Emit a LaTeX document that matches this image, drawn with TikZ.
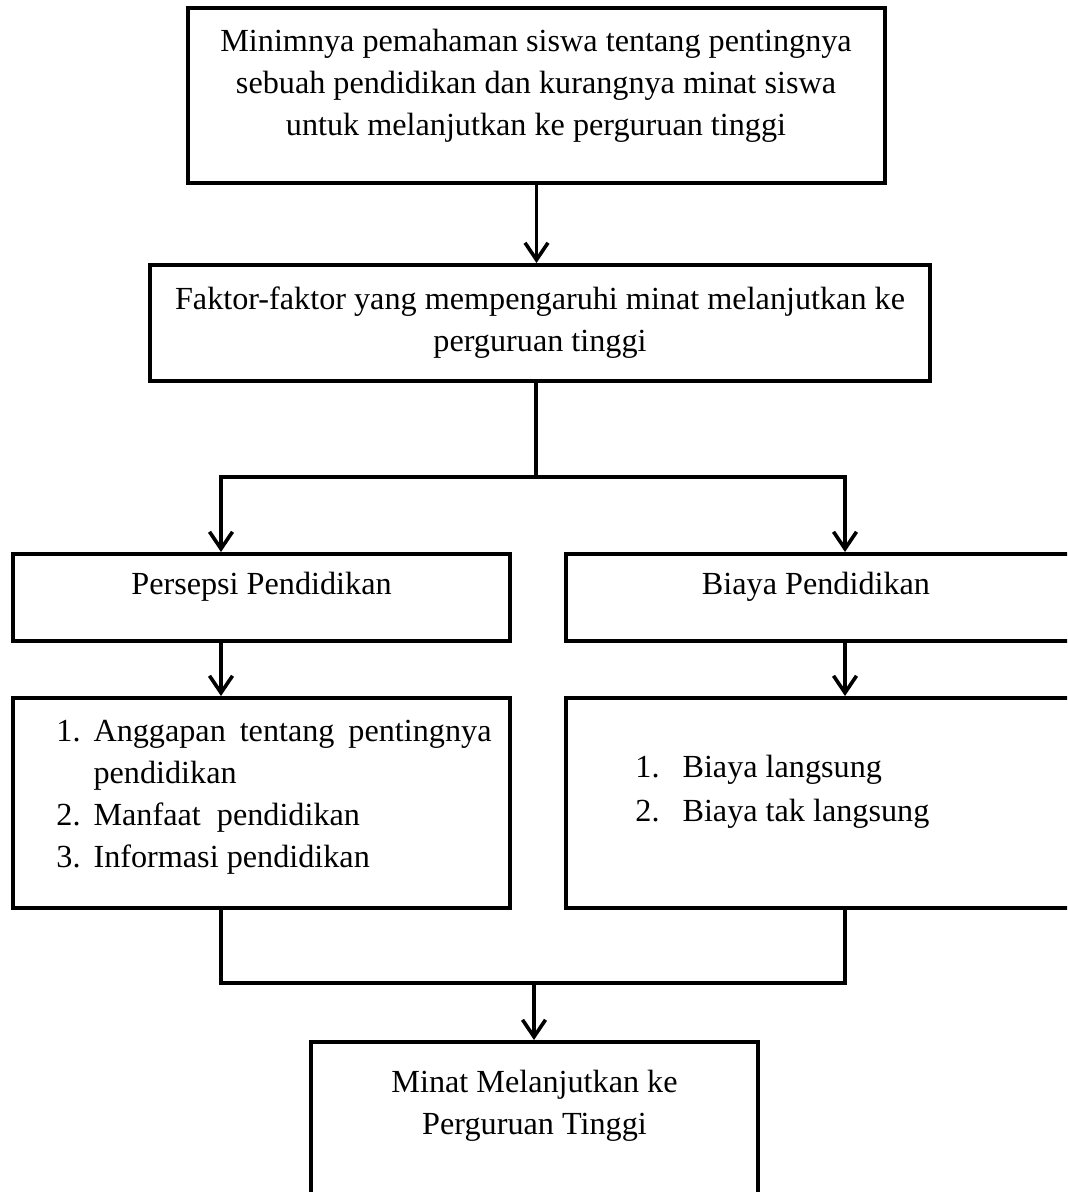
\documentclass[tikz,border=0pt]{standalone}
\usepackage{fontspec}
\setmainfont{Liberation Serif}
\usetikzlibrary{arrows.meta}
\tikzset{
  kotak/.style={draw, line width=2pt, inner sep=0pt},
  teks/.style={inner sep=0pt, align=center, font=\fontsize{16.1pt}{21pt}\selectfont},
  daftar/.style={inner sep=0pt, anchor=base west, font=\fontsize{16.1pt}{21pt}\selectfont},
  garis/.style={line width=1.8pt},
  panah/.style={line width=1.8pt, -{Straight Barb[length=8.5pt,width=11.5pt]}}
}
\begin{document}
\begin{tikzpicture}[x=0.5pt,y=-0.5pt]
\useasboundingbox (0,0) rectangle (1067,1192);
\clip (0,0) rectangle (1067,1192);
% kotak-kotak
\node[kotak, minimum width=348.5pt, minimum height=87.5pt] (atas) at (536.5,95.5) {};
\node[teks] (atas-t) at (536,86) {Minimnya pemahaman siswa tentang pentingnya\\
  sebuah pendidikan dan kurangnya minat siswa\\
  untuk melanjutkan ke perguruan tinggi};
\node[kotak, minimum width=390pt, minimum height=58pt] (faktor) at (540,323) {};
\node[teks] (faktor-t) at (540,323) {Faktor-faktor yang mempengaruhi minat melanjutkan ke\\
  perguruan tinggi};
\node[kotak, minimum width=248.5pt, minimum height=43.5pt] (per) at (261.5,597.5) {};
\node[teks] (per-t) at (261.5,587) {Persepsi Pendidikan};
\node[kotak, minimum width=253pt, minimum height=43.5pt] (bia) at (819,597.5) {};
\node[teks] (bia-t) at (816,587) {Biaya Pendidikan};
\node[kotak, minimum width=248.5pt, minimum height=105pt] (perl) at (261.5,803) {};
\node[daftar] (perl-t) at (56,741) {\begin{tabular}[t]{@{}l@{\hspace{6.5pt}}l@{}}
  1. & \makebox[199pt][s]{Anggapan tentang pentingnya}\\
     & pendidikan\\
  2. & Manfaat\ \ pendidikan\\
  3. & Informasi pendidikan
\end{tabular}};
\node[kotak, minimum width=253pt, minimum height=105pt] (bial) at (819,803) {};
\node[daftar] (bial-t) at (635,777) {\renewcommand{\arraystretch}{1.05}%
\begin{tabular}[t]{@{}l@{\hspace{11.5pt}}l@{}}
  1. & Biaya langsung\\
  2. & Biaya tak langsung
\end{tabular}};
\node[kotak, minimum width=223.5pt, minimum height=84pt] (akhir) at (534.5,1126) {};
\node[teks] (akhir-t) at (534.5,1106) {Minat Melanjutkan ke\\Perguruan Tinggi};
% titik cabang
\coordinate (c1) at (536,477);
\coordinate (k1) at (221,477);
\coordinate (n1) at (845,477);
\coordinate (c2) at (534,983);
% garis dan panah
\draw[panah] (atas.south) -- (atas.south |- faktor.north);
\draw[garis] (faktor.south -| c1) -- (c1);
\draw[panah] (c1) -| (per.north -| k1);
\draw[panah] (c1) -| (bia.north -| n1);
\draw[panah] (per.south -| k1) -- (perl.north -| k1);
\draw[panah] (bia.south -| n1) -- (bial.north -| n1);
\draw[garis] (perl.south -| k1) |- (c2);
\draw[garis] (bial.south -| n1) |- (c2);
\draw[panah] (c2) -- (akhir.north -| c2);
\end{tikzpicture}
\end{document}
